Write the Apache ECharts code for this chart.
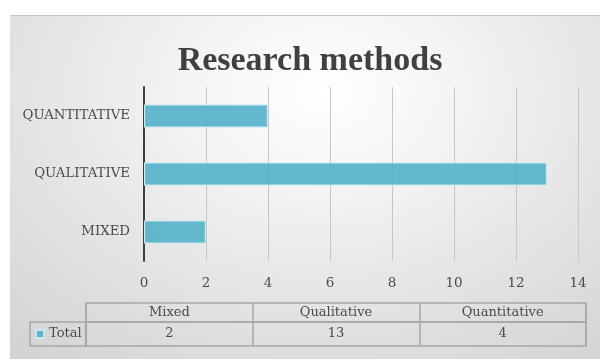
<!DOCTYPE html>
<html>
<head>
<meta charset="utf-8">
<script src="https://cdn.jsdelivr.net/npm/echarts@6/dist/echarts.min.js"></script>
<style>
html,body{margin:0;padding:0;background:#fff;}
#bg{position:absolute;left:10px;top:15px;width:590px;height:344px;box-sizing:border-box;border-top:1px solid #c4c4c4;
background:radial-gradient(ellipse 80% 100% at 53% 22%, #ffffff 0%, #f4f4f4 28%, #e4e4e4 62%, #d3d3d3 100%);}
#chart{position:absolute;left:0;top:0;width:600px;height:360px;}
</style>
</head>
<body>
<div id="bg"></div>
<div id="chart"></div>
<script>
// Data
const titleText = 'Research methods';
const seriesName = 'Total';
const categories = ['Mixed', 'Qualitative', 'Quantitative'];
const values = [2, 13, 4];
const xTicks = {min: 0, max: 14, interval: 2};

const serif = 'DejaVu Serif';
const textColor = '#4a4a4a';
const tableLine = '#a6a6a6';

const chart = echarts.init(document.getElementById('chart'), null, {renderer: 'canvas'});
chart.setOption({
  backgroundColor: 'transparent',
  animation: false,
  title: {
    text: titleText,
    left: 305, top: 39, textAlign: 'center',
    textStyle: {fontFamily: 'Liberation Serif', fontWeight: 'bold', fontSize: 34, color: '#404040'}
  },
  legend: {
    data: [seriesName],
    left: 30, top: 322,
    orient: 'horizontal',
    icon: 'rect', itemWidth: 8, itemHeight: 8, itemGap: 0,
    padding: [4, 4, 4, 5],
    borderColor: tableLine, borderWidth: 1.5,
    textStyle: {fontFamily: serif, fontSize: 13, color: textColor, lineHeight: 16}
  },
  grid: [
    {left: 144, right: 22, top: 87, bottom: 99, containLabel: false},
    {left: 86, right: 14, top: 303, height: 19, show: true, borderColor: tableLine, borderWidth: 1.5, backgroundColor: 'transparent'},
    {left: 86, right: 14, top: 322, height: 24, show: true, borderColor: tableLine, borderWidth: 1.5, backgroundColor: 'transparent'}
  ],
  xAxis: [
    {
      gridIndex: 0, type: 'value', min: xTicks.min, max: xTicks.max, interval: xTicks.interval,
      axisLine: {show: false}, axisTick: {show: false},
      axisLabel: {fontFamily: serif, fontSize: 13.5, color: textColor, margin: 15},
      splitLine: {show: true, lineStyle: {color: '#c6c6c6', width: 1}}
    },
    {
      gridIndex: 1, type: 'category', data: categories, position: 'top', boundaryGap: true,
      axisLine: {show: false}, axisTick: {show: false},
      axisLabel: {inside: true, margin: 3, fontFamily: serif, fontSize: 13, color: textColor, interval: 0},
      splitLine: {show: true, interval: 0, lineStyle: {color: tableLine, width: 1.5}}
    },
    {
      gridIndex: 2, type: 'category', data: values.map(String), position: 'top', boundaryGap: true,
      axisLine: {show: false}, axisTick: {show: false},
      axisLabel: {inside: true, margin: 5, fontFamily: serif, fontSize: 13, color: textColor, interval: 0},
      splitLine: {show: true, interval: 0, lineStyle: {color: tableLine, width: 1.5}}
    }
  ],
  yAxis: [
    {
      gridIndex: 0, type: 'category', data: categories,
      axisLine: {show: true, lineStyle: {color: '#404040', width: 2}},
      axisTick: {show: false},
      axisLabel: {fontFamily: serif, fontSize: 13.3, color: textColor, margin: 14,
        formatter: v => v.toUpperCase()}
    },
    {gridIndex: 1, type: 'value', show: false},
    {gridIndex: 2, type: 'value', show: false}
  ],
  series: [
    {
      name: seriesName, type: 'bar', xAxisIndex: 0, yAxisIndex: 0,
      data: values, barCategoryGap: '60%',
      itemStyle: {color: 'rgba(80,175,200,0.88)', borderColor: '#c9e8f1', borderWidth: 1.2}
    },
    {type: 'scatter', xAxisIndex: 1, yAxisIndex: 1, data: [], silent: true},
    {type: 'scatter', xAxisIndex: 2, yAxisIndex: 2, data: [], silent: true}
  ]
});
</script>
</body>
</html>
